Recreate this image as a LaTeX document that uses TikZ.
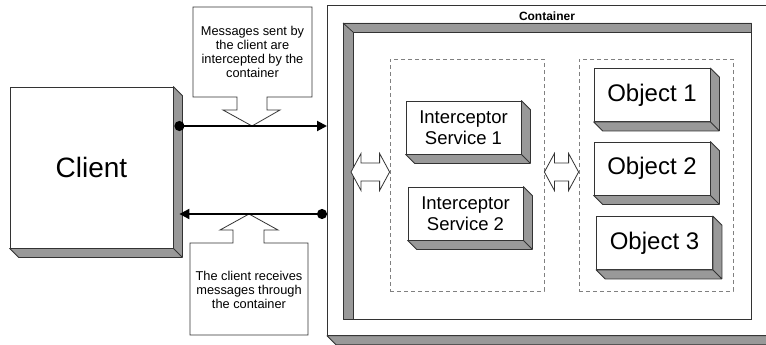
\documentclass[tikz,border=0pt]{standalone}
\usepackage{fontspec}
\setmainfont{Liberation Sans}
\usetikzlibrary{arrows.meta,calc}
\definecolor{facegray}{HTML}{999999}
\definecolor{linegray}{HTML}{333333}
\tikzset{
  block/.style={draw=linegray,fill=white,line width=0.8pt,align=center,inner sep=0pt},
  face/.style={draw=linegray,fill=facegray,line width=0.8pt,line join=round},
  msg/.style={line width=2pt,{Circle[length=10pt]}-{Triangle[length=10pt,width=10pt]}},
  note/.style={draw=linegray,fill=white,line width=0.8pt},
  hollow/.style={draw=linegray,fill=white,line width=0.8pt},
  group/.style={draw=gray,line width=0.8pt,dash pattern=on 4pt off 3pt,inner sep=0pt}
}
\newcommand{\extrude}[1]{%
  \filldraw[face] (#1.north east) -- ++(9,9) -- ($(#1.south east)+(9,9)$) --
  ($(#1.south west)+(9,9)$) -- (#1.south west) -- (#1.south east) -- cycle
  (#1.south east) -- ++(9,9);}
\newcommand{\dblarrow}[2]{%
  \draw[hollow] (#1) -- ++(10,-18.5) -- ++(0,9.5) -- ($(#2)+(-10,-9)$) --
  ++(0,-9.5) -- (#2) -- ++(-10,18.5) -- ++(0,-9.5) -- ($(#1)+(10,9)$) --
  ++(0,9.5) -- cycle;}
\begin{document}
\begin{tikzpicture}[x=1pt,y=-1pt]
  \clip (0,0) rectangle (766,345);
  \fill[white] (0,0) rectangle (766,345);

  \node[block,minimum width=448pt,minimum height=330pt,anchor=north west] (container) at (327,5) {};
  \extrude{container}
  \node[font=\bfseries\fontsize{12}{14}\selectfont] (containerlabel) at (547,16) {Container};

  \node[block,minimum width=408pt,minimum height=296pt,anchor=north west] (frame) at (343,23) {};
  \filldraw[face] (frame.north west) -- (frame.north east) -- ++(0,9) --
  ($(frame.north west)+(10,9)$) -- ($(frame.south west)+(10,0)$) -- (frame.south west) -- cycle;
  \draw[linegray,line width=0.8pt] (frame.north west) -- ++(10,9);

  \node[group,minimum width=154pt,minimum height=232pt] (intgroup) at (467,175) {};
  \node[group,minimum width=154pt,minimum height=232pt] (objgroup) at (656,175) {};

  \begin{scope}[every node/.style={block,font=\fontsize{18.5}{21}\selectfont,minimum width=115pt,minimum height=53pt}]
    \node (svc1) at (463.5,127.5) {Interceptor\\Service 1};
    \node (svc2) at (465.5,213.5) {Interceptor\\Service 2};
  \end{scope}
  \extrude{svc1}
  \extrude{svc2}

  \begin{scope}[every node/.style={block,font=\fontsize{24}{26}\selectfont,minimum width=116pt,minimum height=53pt}]
    \node (obj1) at (652,95) {Object 1};
    \node (obj2) at (652,168.5) {Object 2};
    \node (obj3) at (654.5,243) {Object 3};
  \end{scope}
  \foreach \n in {obj1,obj2,obj3} {\extrude{\n}}

  \coordinate (inlet) at ($(frame.west |- 0,172)+(8,0)$);
  \coordinate (intin) at (intgroup.west |- inlet);
  \coordinate (intout) at (intgroup.east |- inlet);
  \coordinate (objin) at (objgroup.west |- inlet);
  \dblarrow{inlet}{intin}
  \dblarrow{intout}{objin}

  \node[block,minimum width=163pt,minimum height=161pt,font=\fontsize{28}{30}\selectfont] (client) at (91.5,167.5) {Client};
  \extrude{client}

  \coordinate (sendtip) at (252,126);
  \coordinate (recvtip) at (249,214);
  \draw[note] (193,7) -- (312,7) -- (312,97) -- (267,97) -- (267,110) -- (280,110) --
  (sendtip) -- (223,110) -- (237,110) -- (237,97) -- (193,97) -- cycle;
  \node[font=\fontsize{12.8}{14}\selectfont,align=center] (sendnote) at (252.5,52)
  {Messages sent by\\the client are\\intercepted by the\\container};
  \draw[note] (190,243) -- (233,243) -- (233,230) -- (220,230) -- (recvtip) --
  (278,230) -- (264,230) -- (264,243) -- (308,243) -- (308,335) -- (190,335) -- cycle;
  \node[font=\fontsize{12.8}{14}\selectfont,align=center] (recvnote) at (249,289.5)
  {The client receives\\messages through\\the container};

  \draw[msg] ([xshift=1pt]client.east |- sendtip) -- (container.west |- sendtip);
  \draw[msg] (container.west |- recvtip) -- ([xshift=6pt]client.east |- recvtip);
\end{tikzpicture}
\end{document}
